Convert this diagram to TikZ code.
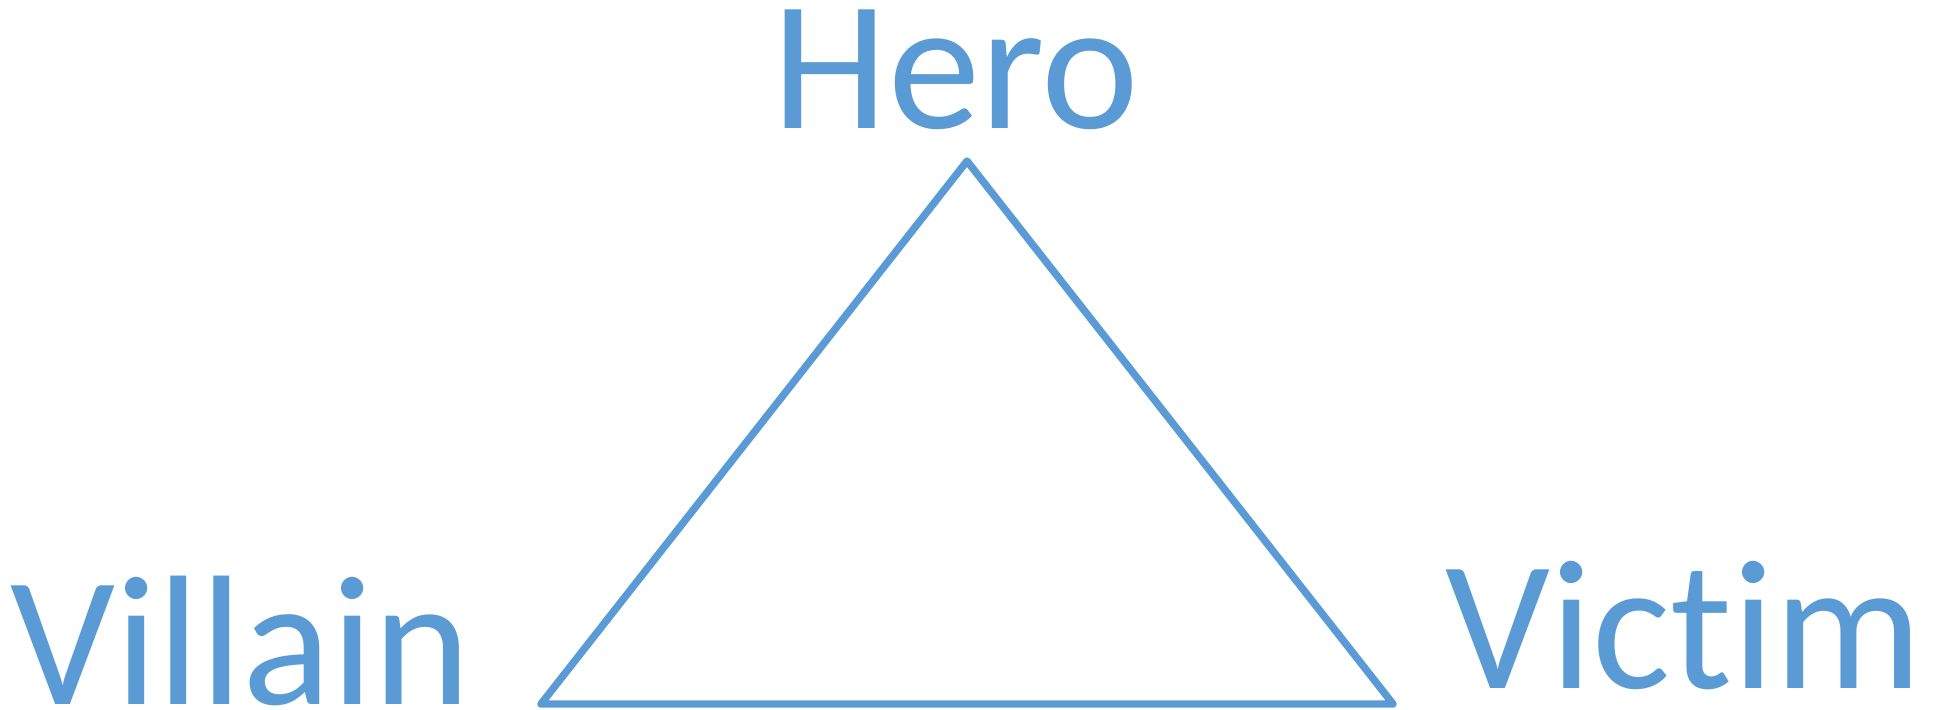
\documentclass[tikz,border=0pt]{standalone}
\usepackage{fontspec}
\setmainfont{Carlito}[Ligatures=NoCommon]
\definecolor{roleblue}{HTML}{5B9BD5}
\begin{document}
\begin{tikzpicture}[x=0.01cm,y=-0.01cm,
  role/.style={text=roleblue,inner sep=0pt,anchor=base,font=\fontsize{52.6}{60}\selectfont}]
\useasboundingbox (0,0) rectangle (1936,710);
\node[role] (hero) at (956,129) {Hero};
\node[role] (villain) at (241,705) {Villain};
\node[role] (victim) at (1684,689) {Victim};

\coordinate (apex) at (967,161);
\coordinate (left) at (541,704);
\coordinate (right) at (1393,704);
\draw[roleblue,line width=2.1pt,line join=round] (apex) -- (left) -- (right) -- cycle;
\end{tikzpicture}
\end{document}
